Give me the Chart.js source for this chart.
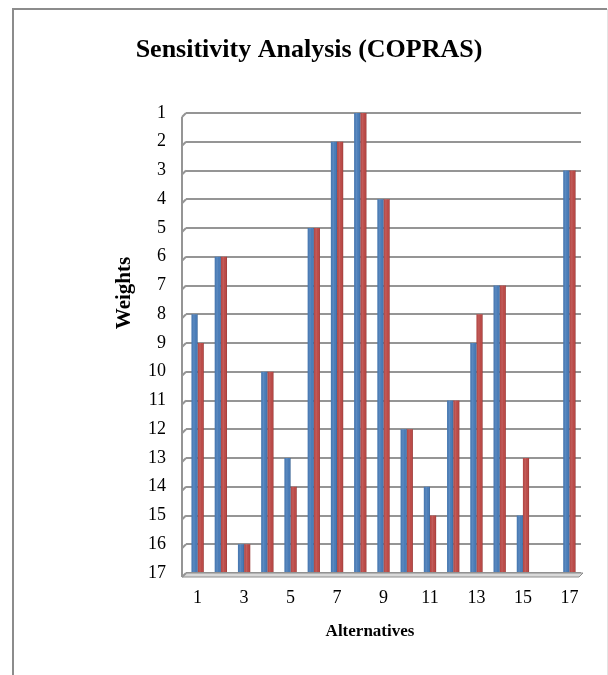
<!DOCTYPE html>
<html>
<head>
<meta charset="utf-8">
<script src="https://cdn.jsdelivr.net/npm/chart.js@4.4.1/dist/chart.umd.min.js"></script>
<style>
  html, body { margin: 0; padding: 0; background: #fff; }
  #wrap { width: 608px; height: 675px; }
</style>
</head>
<body>
<div id="wrap"><canvas id="chart" width="608" height="675"></canvas></div>
<script>
// chart data
var alternatives = ['1','2','3','4','5','6','7','8','9','10','11','12','13','14','15','16','17'];
var seriesOne = [8, 6, 16, 10, 13, 5, 2, 1, 4, 12, 14, 11, 9, 7, 15, 17, 3];
var seriesTwo = [9, 6, 16, 10, 14, 5, 2, 1, 4, 12, 15, 11, 8, 7, 13, 17, 3];
var weightMin = 1;
var weightMax = 17;

var serif = "'Liberation Serif', 'Times New Roman', serif";

/**
 * Frame, titles and the fake 3D wall / floor
 * Excel draws the back wall with a small depth offset,
 * so the gridlines get a little slanted tail on the left.
 */
var decorPlugin = {
  id: 'decor',
  beforeDraw: function(chart){
    var ctx = chart.ctx;
    ctx.save();
    ctx.lineWidth = 2;
    ctx.strokeStyle = '#8c8c8c';
    ctx.beginPath();
    ctx.moveTo(13, 675);
    ctx.lineTo(13, 9);
    ctx.lineTo(607, 9);
    ctx.stroke();
    ctx.lineWidth = 1;
    ctx.strokeStyle = '#e4e4e4';
    ctx.beginPath();
    ctx.moveTo(607.5, 9);
    ctx.lineTo(607.5, 675);
    ctx.stroke();
    ctx.restore();
  },
  beforeDatasetsDraw: function(chart){
    var ctx = chart.ctx;
    var area = chart.chartArea;
    var y = chart.scales.y;
    var d = 4;
    ctx.save();
    // floor
    ctx.fillStyle = '#d9d9d9';
    ctx.strokeStyle = '#8c8c8c';
    ctx.lineWidth = 1;
    ctx.beginPath();
    ctx.moveTo(area.left, area.bottom);
    ctx.lineTo(area.right + 2, area.bottom);
    ctx.lineTo(area.right + 2 - d, area.bottom + d);
    ctx.lineTo(area.left - d, area.bottom + d);
    ctx.closePath();
    ctx.fill();
    ctx.stroke();
    // wall edge and slanted tails
    ctx.strokeStyle = '#959595';
    ctx.lineWidth = 2;
    ctx.beginPath();
    ctx.moveTo(area.left - d, area.top + d);
    ctx.lineTo(area.left - d, area.bottom + d);
    ctx.stroke();
    ctx.beginPath();
    for (var v = weightMin; v <= weightMax; v++) {
      var py = y.getPixelForValue(v);
      ctx.moveTo(area.left, py);
      ctx.lineTo(area.left - d, py + d);
    }
    ctx.stroke();
    ctx.restore();
  },
  afterDatasetsDraw: function(chart){
    var ctx = chart.ctx;
    ctx.save();
    // light cylinder shading over each bar
    chart.data.datasets.forEach(function(ds, i){
      chart.getDatasetMeta(i).data.forEach(function(bar){
        var p = bar.getProps(['x', 'y', 'base', 'width'], true);
        var l = p.x - p.width / 2;
        var g = ctx.createLinearGradient(l, 0, l + p.width, 0);
        g.addColorStop(0, 'rgba(0,0,0,0.06)');
        g.addColorStop(0.4, 'rgba(255,255,255,0.10)');
        g.addColorStop(0.8, 'rgba(0,0,0,0.0)');
        g.addColorStop(1, 'rgba(0,0,0,0.22)');
        ctx.fillStyle = g;
        ctx.fillRect(l, Math.min(p.y, p.base), p.width, Math.abs(p.base - p.y));
      });
    });
    // titles
    ctx.fillStyle = '#000';
    ctx.textAlign = 'center';
    ctx.textBaseline = 'middle';
    ctx.font = 'bold 26px ' + serif;
    ctx.fillText('Sensitivity Analysis (COPRAS)', 309, 50);
    ctx.font = 'bold 17px ' + serif;
    ctx.fillText('Alternatives', 370, 632);
    ctx.font = 'bold 21px ' + serif;
    ctx.translate(125, 293);
    ctx.rotate(-Math.PI / 2);
    ctx.fillText('Weights', 0, 0);
    ctx.restore();
  }
};

var ctx = document.getElementById('chart').getContext('2d');
var chart = new Chart(ctx, {
  type: 'bar',
  data: {
    labels: alternatives,
    datasets: [
      {
        label: 'Series 1',
        data: seriesOne,
        base: weightMax,
        backgroundColor: '#4a7ebb',
        borderWidth: 0
      },
      {
        label: 'Series 2',
        data: seriesTwo,
        base: weightMax,
        backgroundColor: '#be4b48',
        borderWidth: 0
      }
    ]
  },
  options: {
    responsive: false,
    animation: false,
    events: [],
    layout: { padding: { left: 126, right: 27, top: 113, bottom: 62 } },
    datasets: { bar: { barPercentage: 1, categoryPercentage: 0.53 } },
    plugins: {
      legend: { display: false },
      tooltip: { enabled: false },
      title: { display: false }
    },
    scales: {
      x: {
        grid: { display: false, drawTicks: false },
        border: { display: false },
        afterFit: function(scale){ scale.height = 40; },
        ticks: {
          autoSkip: false,
          maxRotation: 0,
          padding: 14,
          color: '#000',
          font: { family: serif, size: 18 },
          callback: function(value, index){
            return index % 2 === 0 ? this.getLabelForValue(value) : '';
          }
        }
      },
      y: {
        reverse: true,
        min: weightMin,
        max: weightMax,
        afterFit: function(scale){ scale.width = 60; },
        grid: { color: '#959595', lineWidth: 2, drawTicks: false },
        border: { display: false },
        ticks: {
          stepSize: 1,
          padding: 20,
          color: '#000',
          font: { family: serif, size: 18 }
        }
      }
    }
  },
  plugins: [decorPlugin]
});
</script>
</body>
</html>
